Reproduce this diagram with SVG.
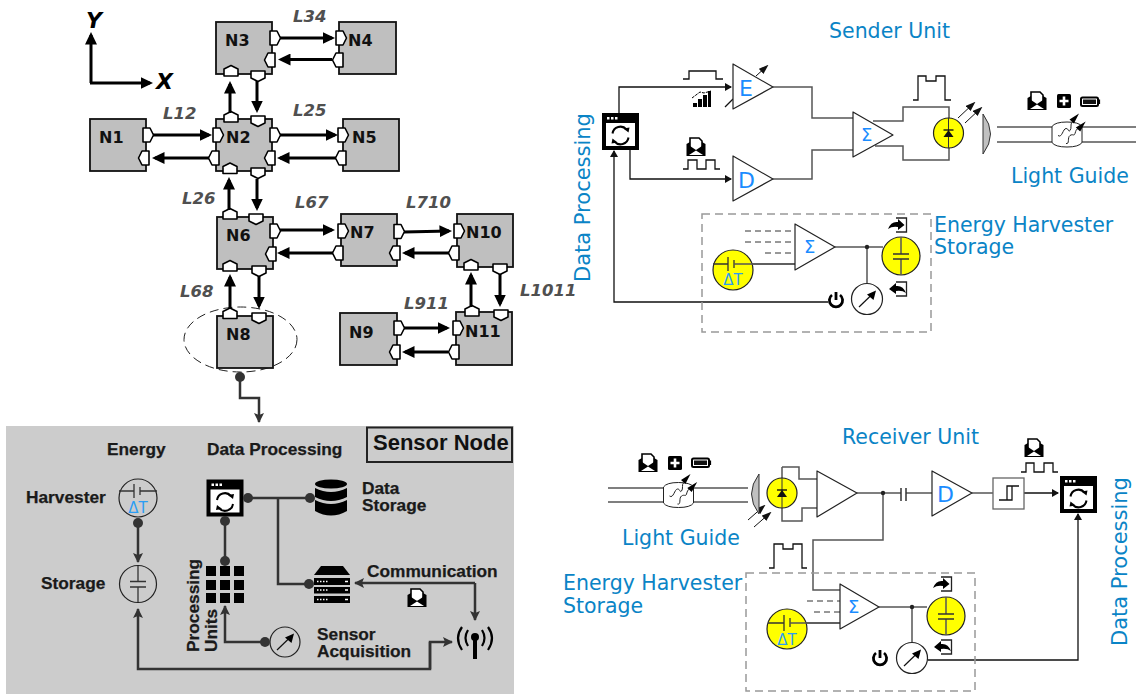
<svg xmlns="http://www.w3.org/2000/svg" width="1140" height="694" viewBox="0 0 1140 694">
<style>
text{white-space:pre}
.node{fill:#bfbfbf;stroke:#111;stroke-width:1.8}
.port{fill:#fff;stroke:#000;stroke-width:1.6;stroke-linejoin:round}
.nl{font:bold 16px "DejaVu Sans",sans-serif;fill:#111}
.ll{font:italic bold 16.500px "DejaVu Sans",sans-serif;fill:#505050}
.ax{font:italic bold 22px "DejaVu Sans",sans-serif;fill:#000}
.tk{fill:none;stroke:#000;stroke-width:3;marker-end:url(#hk)}
.pt{font:bold 17.300px "Liberation Sans",sans-serif;fill:#1a1a1a;stroke:#1a1a1a;stroke-width:.25}
.pc{fill:none;stroke:#333;stroke-width:2.500}
.pa{marker-end:url(#hp)}
.dot{fill:#333}
.bt{font:20.500px "DejaVu Sans",sans-serif;fill:#0a84c6}
.bv{font:21px "DejaVu Sans",sans-serif;fill:#0a84c6}
.sym{font:22px "DejaVu Sans",sans-serif;fill:#1a8cff}
.sig{font:18px "DejaVu Sans",sans-serif;fill:#1a8cff}
.dt{font:15px "DejaVu Sans",sans-serif;fill:#2a9df4}
.w{fill:none;stroke:#111;stroke-width:1.300}
.wg{fill:none;stroke:#555;stroke-width:1.500}
.g1{fill:#fff;stroke:#222;stroke-width:1.200;stroke-linejoin:round}
.yl{fill:#ff0;stroke:#222;stroke-width:1.200}
.dash{fill:none;stroke:#999;stroke-width:1.500;stroke-dasharray:8 5}
.dsh{fill:none;stroke:#333;stroke-width:1;stroke-dasharray:6 4}
.ta{fill:none;stroke:#111;stroke-width:1.300;marker-end:url(#ht)}
.ray{fill:none;stroke:#111;stroke-width:1;marker-end:url(#hr)}
</style>
<defs>
<marker id="hk" markerUnits="userSpaceOnUse" markerWidth="13" markerHeight="12" refX="9.500" refY="6" orient="auto"><path d="M0,0L12.500,6L0,12z" fill="#000"/></marker>
<marker id="hp" markerUnits="userSpaceOnUse" markerWidth="11" markerHeight="11" refX="9" refY="5" orient="auto"><path d="M0,0L10,5L0,10L2,5z" fill="#333"/></marker>
<marker id="ht" markerUnits="userSpaceOnUse" markerWidth="7" markerHeight="8" refX="6" refY="4" orient="auto"><path d="M0,0L7,4L0,8z" fill="#111"/></marker>
<marker id="hr" markerUnits="userSpaceOnUse" markerWidth="10" markerHeight="7" refX="8" refY="3.500" orient="auto"><path d="M0,0L10,3.500L0,7z" fill="#111"/></marker>
<polygon id="p" class="port" points="-5,-7 2,-7 5.500,0 2,7 -5,7"/>
<g id="proc">
<rect x="-18.500" y="-18.500" width="37" height="37" fill="#000"/>
<rect x="-14.500" y="-8.500" width="29" height="23" fill="#fff"/>
<rect x="-13.500" y="-14.500" width="2.500" height="2.500" fill="#fff"/><rect x="-9.500" y="-14.500" width="2.500" height="2.500" fill="#fff"/><rect x="-5.500" y="-14.500" width="2.500" height="2.500" fill="#fff"/>
<path d="M-8,2A8,8 0 0 1 6,-2M8,6A8,8 0 0 1 -6,10" fill="none" stroke="#000" stroke-width="2"/>
<path d="M3,-3L9,-4L8,1zM-3,11L-9,12L-8,7z" fill="#000"/>
</g>
<g id="env">
<path d="M-6,2V-9H3L6,-6V2" fill="#fff" stroke="#000" stroke-width="1.600"/>
<path d="M-9.500,-3L-6,-5V-1L0,3L6,-1V-5L9.500,-3V9H-9.500z" fill="#000"/>
<path d="M-7,8L0,3.500L7,8z" fill="#fff"/>
</g>
<g id="plus"><rect x="-7" y="-7" width="14" height="14" rx="1.500" fill="#000"/><path d="M-4.500,0H4.500M0,-4.500V4.500" stroke="#fff" stroke-width="2.600"/></g>
<g id="bat"><rect x="-9" y="-4" width="17" height="8.500" rx="1.500" fill="#fff" stroke="#000" stroke-width="2"/><rect x="-7" y="-2" width="13" height="4.500" fill="#111"/><rect x="8.500" y="-2" width="1.600" height="4.500" fill="#000"/></g>
<g id="core">
<path d="M-15,-8Q-12,-12.500 0,-12.500T15,-8V8Q12,12.500 0,12.500T-15,8z" fill="#fff" stroke="#222" stroke-width="1"/>
<path d="M-9,1C-5,4 -4,-6 -1,-6S1,-2 3,-4S3,-11 5,-12M-1,9C3,10 0,3 3,1S7,2 8,-1S9,-5 11,-6" fill="none" stroke="#222" stroke-width="1"/>
<path d="M12,-21L6.900,-11L2.500,-15zM18.700,-13L13.200,-3L8.800,-7z" fill="#000"/>
</g>
<g id="inb"><path d="M-2,-7H8.500V7H-2" fill="none" stroke="#222" stroke-width="1.300"/><path d="M-10,4Q-7,-4 0,-3V-6L6.500,0L0,5V2Q-6,1 -10,4z" fill="#000"/></g>
<g id="outb"><path d="M-2,-7H8.500V7H-2" fill="none" stroke="#222" stroke-width="1.300"/><path d="M8,4Q5,-4 -2,-3V-6L-9,0L-2,5V2Q4,1 8,4z" fill="#000"/></g>
<g id="gauge"><line x1="-8" y1="8" x2="6" y2="-5.500" stroke="#111" stroke-width="1.200"/><path d="M9,-8.500L6.500,1L0,-4.500z" fill="#000"/></g>
<g id="pwr"><path d="M-4,-5A6.600,6.600 0 1 0 4,-5" fill="none" stroke="#000" stroke-width="2.800"/><path d="M0,-8V0" stroke="#000" stroke-width="2.800"/></g>
<g id="led"><circle r="15" class="yl"/><path d="M0,-15V15" stroke="#333" stroke-width="1"/><path d="M-5,-3H5" stroke="#111" stroke-width="1.400"/><path d="M0,-3L5,4H-5z" fill="#111"/></g>
<g id="capy"><circle r="19" class="yl"/><path d="M0,-19V-2M0,3V19" class="wg"/><path d="M-8,-2H8M-8,3H8" stroke="#333" stroke-width="1.500"/></g>
</defs>

<g id="axes">
<path d="M91,83V35" class="tk"/><path d="M90,83H150" class="tk"/>
<text x="86" y="28" class="ax">Y</text><text x="156" y="89" class="ax">X</text>
</g>

<g id="N1"><rect x="90" y="119" width="56" height="52" class="node"/><text x="99" y="143" class="nl">N1</text><use href="#p" transform="translate(148,135)"/><use href="#p" transform="translate(144,158) rotate(180)"/></g>
<g id="N2"><rect x="216" y="119" width="56" height="52" class="node"/><text x="226" y="143" class="nl">N2</text><use href="#p" transform="translate(218,135)"/><use href="#p" transform="translate(214,158) rotate(180)"/><use href="#p" transform="translate(275,135)"/><use href="#p" transform="translate(270,158) rotate(180)"/><use href="#p" transform="translate(231,117) rotate(-90)"/><use href="#p" transform="translate(258,121) rotate(90)"/><use href="#p" transform="translate(230,168.500) rotate(-90)"/><use href="#p" transform="translate(258,173) rotate(90)"/></g>
<g id="N3"><rect x="216" y="22" width="56" height="52" class="node"/><text x="225" y="46" class="nl">N3</text><use href="#p" transform="translate(275,38)"/><use href="#p" transform="translate(270,60) rotate(180)"/><use href="#p" transform="translate(231,71) rotate(-90)"/><use href="#p" transform="translate(258,76) rotate(90)"/></g>
<g id="N4"><rect x="339" y="22" width="57" height="52" class="node"/><text x="348" y="46" class="nl">N4</text><use href="#p" transform="translate(341,38)"/><use href="#p" transform="translate(338,60) rotate(180)"/></g>
<g id="N5"><rect x="343" y="119" width="56" height="52" class="node"/><text x="352" y="143" class="nl">N5</text><use href="#p" transform="translate(343,135)"/><use href="#p" transform="translate(341,158) rotate(180)"/></g>
<g id="N6"><rect x="217" y="217" width="56" height="52" class="node"/><text x="226" y="241" class="nl">N6</text><use href="#p" transform="translate(275,231)"/><use href="#p" transform="translate(271,254) rotate(180)"/><use href="#p" transform="translate(230,214) rotate(-90)"/><use href="#p" transform="translate(256,219) rotate(90)"/><use href="#p" transform="translate(230,266) rotate(-90)"/><use href="#p" transform="translate(259,271) rotate(90)"/></g>
<g id="N7"><rect x="341" y="214" width="56" height="52" class="node"/><text x="350" y="238" class="nl">N7</text><use href="#p" transform="translate(343,231)"/><use href="#p" transform="translate(338,253) rotate(180)"/><use href="#p" transform="translate(399,231.500)"/><use href="#p" transform="translate(395,253) rotate(180)"/></g>
<g id="N8"><ellipse cx="240.500" cy="339.500" rx="56.500" ry="32.500" fill="none" stroke="#222" stroke-width="1" stroke-dasharray="9 5"/><rect x="217" y="316" width="56" height="52" class="node"/><text x="226" y="340" class="nl">N8</text><use href="#p" transform="translate(230,313.500) rotate(-90)"/><use href="#p" transform="translate(259,318) rotate(90)"/></g>
<g id="N9"><rect x="340" y="313" width="57" height="52" class="node"/><text x="349" y="338" class="nl">N9</text><use href="#p" transform="translate(399,328)"/><use href="#p" transform="translate(395,352) rotate(180)"/></g>
<g id="N10"><rect x="457" y="214" width="56" height="53" class="node"/><text x="466" y="238" class="nl">N10</text><use href="#p" transform="translate(459,231)"/><use href="#p" transform="translate(454,253) rotate(180)"/><use href="#p" transform="translate(471,265) rotate(-90)"/><use href="#p" transform="translate(500,269) rotate(90)"/></g>
<g id="N11"><rect x="456" y="312" width="56" height="53" class="node"/><text x="465" y="337" class="nl">N11</text><use href="#p" transform="translate(458,328)"/><use href="#p" transform="translate(454,352) rotate(180)"/><use href="#p" transform="translate(472,311) rotate(-90)"/><use href="#p" transform="translate(501,315) rotate(90)"/></g>

<g id="link-labels">
<text x="293" y="22" class="ll">L34</text><text x="163" y="119" class="ll">L12</text><text x="293" y="116" class="ll">L25</text><text x="182" y="204" class="ll">L26</text><text x="295" y="208" class="ll">L67</text><text x="406" y="208" class="ll">L710</text><text x="180" y="297" class="ll">L68</text><text x="404" y="309" class="ll">L911</text><text x="520" y="296" class="ll">L1011</text>
</g>

<g id="mesh-connectors">
<path class="tk" d="M280,38H332"/><path class="tk" d="M332,59.500H281"/>
<path class="tk" d="M230,113V84"/><path class="tk" d="M257,81V110"/>
<path class="tk" d="M153,135H209"/><path class="tk" d="M209,158H155"/>
<path class="tk" d="M280,135H335"/><path class="tk" d="M336,158H280"/>
<path class="tk" d="M229,210V180"/><path class="tk" d="M257,179V208"/>
<path class="tk" d="M280,230H332"/><path class="tk" d="M333,253H280"/>
<path class="tk" d="M230,308V277"/><path class="tk" d="M259,276V306"/>
<path class="tk" d="M404,232L449,231"/><path class="tk" d="M449,253H405"/>
<path class="tk" d="M471,307V275"/><path class="tk" d="M500,274V304"/>
<path class="tk" d="M404,328H447"/><path class="tk" d="M448,352H405"/>
</g>

<g id="sensor-panel">
<rect x="6" y="426" width="508" height="268" fill="#ccc"/>
<rect x="367" y="427.500" width="145" height="34.500" fill="none" stroke="#222" stroke-width="2"/>
<text x="373" y="450" style="font:bold 22px 'Liberation Sans',sans-serif;fill:#111">Sensor Node</text>
<text x="107" y="455" class="pt">Energy</text><text x="207" y="455" class="pt">Data Processing</text>
<text x="26" y="503" class="pt">Harvester</text><text x="41" y="589" class="pt">Storage</text>
<text x="362" y="494" class="pt">Data</text><text x="362" y="511" class="pt">Storage</text>
<text x="367" y="577" class="pt">Communication</text>
<text x="317" y="640" class="pt">Sensor</text><text x="317" y="657" class="pt">Acquisition</text>
<text transform="translate(199,652) rotate(-90)" class="pt">Processing</text>
<text transform="translate(217,652) rotate(-90)" class="pt">Units</text>
</g>
<g id="harvester"><circle cx="138" cy="498" r="19" fill="none" stroke="#222" stroke-width="1.200"/><path d="M119,491H134M134,484V498M140,487V495M140,491H157" fill="none" stroke="#333" stroke-width="1.300"/><text x="138" y="513" class="dt" text-anchor="middle">ΔT</text></g>
<g id="storage"><circle cx="138" cy="584" r="18.500" fill="none" stroke="#222" stroke-width="1.200"/><path d="M138,566V582M138,587V602M130,581.500H146M130,587H146" fill="none" stroke="#333" stroke-width="1.300"/></g>
<g id="proc-icon"><use href="#proc" transform="translate(225,498)"/></g>
<g id="db"><ellipse cx="331" cy="484" rx="16" ry="4.500" fill="#000"/><path d="M315,488Q331,496 347,488V497Q331,505 315,497zM315,500Q331,508 347,500V511Q331,520 315,511z" fill="#000"/></g>
<g id="server"><path d="M321,566H343L350,575H314z" fill="#000"/><rect x="314" y="578" width="36" height="7" fill="#000"/><rect x="314" y="587" width="36" height="6.500" fill="#000"/><rect x="314" y="596" width="36" height="7" fill="#000"/><path d="M317,581.500H329M317,590H329M317,599.500H329" stroke="#fff" stroke-width="1.500" stroke-dasharray="1.500 1.500"/><path d="M345,581.500H348M345,590H348M345,599.500H348" stroke="#fff" stroke-width="1.500"/></g>
<g id="units"><path d="M206,566h10v10h-10zM220,566h10v10h-10zM234,566h10v10h-10zM206,580h10v10h-10zM220,580h10v10h-10zM234,580h10v10h-10zM206,593h10v10h-10zM220,593h10v10h-10zM234,593h10v10h-10z" fill="#000"/></g>
<g id="gauge-n"><circle cx="285" cy="642" r="15" fill="none" stroke="#222" stroke-width="1.200"/><use href="#gauge" transform="translate(285,642)"/></g>
<g id="antenna"><circle cx="475" cy="637" r="4" fill="#000"/><path d="M475,637V659" stroke="#000" stroke-width="4"/><path d="M462,627Q454,638 462,650M468,630Q463,638 468,646M488,627Q496,638 488,650M482,630Q487,638 482,646" fill="none" stroke="#000" stroke-width="2.200"/></g>
<g id="envelope-n"><use href="#env" transform="translate(417,598)"/></g>

<g id="panel-connectors">
<circle cx="240" cy="377" r="5" class="dot"/><path class="pc pa" d="M240,377V398H259V422"/>
<circle cx="138" cy="523" r="5" class="dot"/><path class="pc pa" d="M138,523V562"/>
<path class="pc pa" d="M430,642V669H138V609"/><path class="pc pa" d="M430,669V642H452"/>
<circle cx="248" cy="498" r="5" class="dot"/><circle cx="310" cy="498" r="5" class="dot"/><path class="pc" d="M248,498H310M278,498V584H309"/><circle cx="309" cy="584" r="5" class="dot"/>
<circle cx="225" cy="521" r="5" class="dot"/><circle cx="225" cy="561" r="5" class="dot"/><path class="pc" d="M225,521V561"/>
<circle cx="265" cy="642" r="5" class="dot"/><path class="pc pa" d="M265,642H225V606"/>
<path class="pc pa" d="M475,583H355"/><path class="pc pa" d="M475,583V620"/>
</g>

<g id="sender-labels">
<text x="829" y="38" class="bt">Sender Unit</text><text x="1011" y="183" class="bt">Light Guide</text>
<text x="934" y="232" class="bt">Energy Harvester</text><text x="934" y="254" class="bt">Storage</text>
<text transform="translate(590,282) rotate(-90)" class="bv">Data Processing</text>
</g>
<g id="sender-connectors">
<path class="ta" d="M619,113V87H731"/><path class="ta" d="M630,150V179H731"/><path class="ta" d="M828,302H614V151"/>
<path class="wg" d="M773,87H812V118H853M773,179H812V150H853"/>
<path class="wg" d="M873,121H903V107H949V160H903V146H875"/>
<path class="w" d="M683,79H689V71H716V79H723"/><path class="w" d="M683,169H688V160H697V169H706V160H715V169H720"/>
<path class="w" d="M913,100H918V76H926V81H936V76H945V100H951"/>
<path class="ray" d="M958,118L974,103"/><path class="ray" d="M965,123L981,108"/>
<path class="wg" d="M997,127H1136M997,142H1136"/>
<path class="w" d="M725,107L733,99"/>
<path class="wg" d="M734,264H795M835,247H883M867,247V283"/>
<path class="dsh" d="M745,231H795M745,242H795M765,253H795"/>
</g>
<g id="sender-proc"><use href="#proc" transform="translate(620.500,131.500)"/></g>
<g id="amp-e"><path d="M733,64V109L773,87z" class="g1"/><text x="739" y="96" class="sym">E</text><path class="ray" d="M756,76L767,66"/></g>
<g id="amp-d"><path d="M733,156V201L773,179z" class="g1"/><text x="738" y="188" class="sym">D</text></g>
<g id="sum-s"><path d="M853,112V157L893,135z" class="g1"/><text x="861" y="141" class="sig">Σ</text></g>
<g id="led-s"><use href="#led" transform="translate(948.500,133)"/></g>
<g id="lens-s"><path d="M983,114Q998,134 983,154z" fill="#c0c0c0" stroke="#333" stroke-width="1"/></g>
<g id="guide-s"><use href="#core" transform="translate(1067,134.500)"/></g>
<g id="icons-s"><use href="#env" transform="translate(1037,101)"/><use href="#plus" transform="translate(1064,101)"/><use href="#bat" transform="translate(1090,101.500)"/></g>
<g id="icons-e"><path d="M693,107v-4h4v4zM698,107v-8h4v8zM703,107v-12h4v12zM708,107v-16h3v16z" fill="#000"/><path d="M692,98L700,92L704,93L711,91" fill="none" stroke="#000" stroke-width="1" stroke-dasharray="3 1"/><use href="#env" transform="translate(696,147)"/></g>
<g id="energy-s">
<rect x="702" y="214" width="229" height="118" class="dash"/>
<circle cx="733" cy="270" r="20" class="yl"/><path d="M713,264H728M728,257V271M734,260V268" fill="none" stroke="#333" stroke-width="1.300"/><text x="733" y="285" class="dt" text-anchor="middle">ΔT</text>
<path d="M734,264H795" class="wg"/>
<path d="M795,224V270L835,247z" class="g1"/><text x="804" y="253" class="sig">Σ</text>
<circle cx="867" cy="247" r="2.200" fill="#222"/>
<circle cx="867" cy="299" r="15.500" class="g1"/><use href="#gauge" transform="translate(867,299)"/>
<use href="#capy" transform="translate(901,256)"/><use href="#pwr" transform="translate(836,300)"/>
<use href="#inb" transform="translate(898,225)"/><use href="#outb" transform="translate(898,289)"/>
</g>

<g id="receiver-labels">
<text x="842" y="444" class="bt">Receiver Unit</text><text x="622" y="545" class="bt">Light Guide</text>
<text x="563" y="590" class="bt">Energy Harvester</text><text x="563" y="613" class="bt">Storage</text>
<text transform="translate(1127,646) rotate(-90)" class="bv">Data Processing</text>
</g>
<g id="receiver-connectors">
<path class="wg" d="M608,488H748M608,502H748"/>
<path class="wg" d="M782,467H799V479H817M782,467V521H802V508H817"/>
<path class="ray" d="M748,520L764,506"/><path class="ray" d="M754,527L770,513"/>
<path class="wg" d="M857,493H901M906,493H932M972,493H993M883,493V540H813V590H840M790,623H840M879,607H927M912,607V642"/>
<path class="ta" d="M1024,493H1058"/>
<path class="ta" d="M928,660H1078V514"/>
<path class="w" d="M1021,472H1026V463H1034V472H1044V463H1053V472H1058"/>
<path class="w" d="M769,568H774V544H783V549H793V544H802V568H807"/>
<path class="dsh" d="M807,601H840M814,612H840"/>
</g>
<g id="guide-r"><use href="#core" transform="translate(678.500,495)"/></g>
<g id="icons-r"><use href="#env" transform="translate(648,463)"/><use href="#plus" transform="translate(675,463)"/><use href="#bat" transform="translate(701,462.500)"/><use href="#env" transform="translate(1034,448)"/></g>
<g id="lens-r"><path d="M759,474Q744,494 759,514z" fill="#c0c0c0" stroke="#333" stroke-width="1"/></g>
<g id="led-r"><use href="#led" transform="translate(782,493)"/></g>
<g id="amp-r"><path d="M817,471V517L857,493z" class="g1"/><circle cx="883" cy="493" r="2.200" fill="#222"/></g>
<g id="cap-r"><path d="M901,488V501M906,488V501" stroke="#333" stroke-width="1.500"/></g>
<g id="amp-dr"><path d="M932,471V516L972,493z" class="g1"/><text x="937" y="502" class="sym">D</text></g>
<g id="schmitt"><rect x="993" y="478" width="31" height="31" fill="#fff" stroke="#666" stroke-width="1.300"/><path d="M999,500H1012V486H1019M1007,500V486H1012" class="w"/></g>
<g id="receiver-proc"><use href="#proc" transform="translate(1078.500,494.500)"/></g>
<g id="energy-r">
<rect x="746" y="573" width="229" height="118" class="dash"/>
<circle cx="787" cy="629" r="20" class="yl"/><path d="M768,623H784M784,615V631M790,618V627" fill="none" stroke="#333" stroke-width="1.300"/><text x="787" y="645" class="dt" text-anchor="middle">ΔT</text>
<path d="M790,623H840" class="wg"/>
<path d="M840,584V629L879,607z" class="g1"/><text x="848" y="613" class="sig">Σ</text>
<circle cx="912" cy="607" r="2.200" fill="#222"/>
<circle cx="912" cy="658" r="15.500" class="g1"/><use href="#gauge" transform="translate(912,658)"/>
<use href="#capy" transform="translate(946,616)"/><use href="#pwr" transform="translate(880,658)"/>
<use href="#inb" transform="translate(943,584)"/><use href="#outb" transform="translate(943,647)"/>
</g>
</svg>
